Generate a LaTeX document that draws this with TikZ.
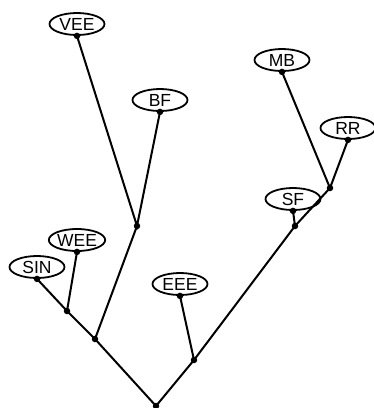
\documentclass[tikz,border=0pt]{standalone}
\usepackage{fontspec}
\setmainfont{Liberation Sans}
\usetikzlibrary{shapes.geometric}
\begin{document}
\begin{tikzpicture}[x=1pt,y=-1pt,
  leaf/.style={ellipse,draw,line width=1.8pt,inner sep=0pt,minimum width=55pt,minimum height=22pt,font=\fontsize{17.5}{17.5}\selectfont},
  dot/.style={circle,fill,inner sep=0pt,minimum size=6.5pt},
  edge/.style={line width=2pt}]
\useasboundingbox (0,0) rectangle (374,408);
% taxa
\node[leaf] (vee) at (77,24) {VEE};
\node[leaf] (bf) at (160,100) {BF};
\node[leaf] (mb) at (282,60) {MB};
\node[leaf] (rr) at (348,128) {RR};
\node[leaf] (sf) at (293,199) {SF};
\node[leaf] (wee) at (77,240) {WEE};
\node[leaf] (sin) at (37,267) {SIN};
\node[leaf] (eee) at (180,284) {EEE};
% attachment points under each label
\foreach \n in {vee,bf,mb,rr,sf,wee,sin,eee}
  \node[dot] (\n d) at (\n.south) {};
% branch points
\node[dot] (jvb) at (137,226) {};
\node[dot] (jmr) at (330,188) {};
\node[dot] (jsf) at (295,226) {};
\node[dot] (jsw) at (67,311) {};
\node[dot] (jl) at (95,339) {};
\node[dot] (je) at (194,360) {};
\node[dot] (root) at (156,406) {};
% tree
\draw[edge] (veed.center) -- (jvb.center) -- (bfd.center);
\draw[edge] (mbd.center) -- (jmr.center) -- (rrd.center);
\draw[edge] (sfd.center) -- (jsf.center) -- (jmr.center);
\draw[edge] (sind.center) -- (jsw.center) -- (weed.center);
\draw[edge] (jsw.center) -- (jl.center) -- (jvb.center);
\draw[edge] (eeed.center) -- (je.center) -- (jsf.center);
\draw[edge] (jl.center) -- (root.center) -- (je.center);
\end{tikzpicture}
\end{document}
